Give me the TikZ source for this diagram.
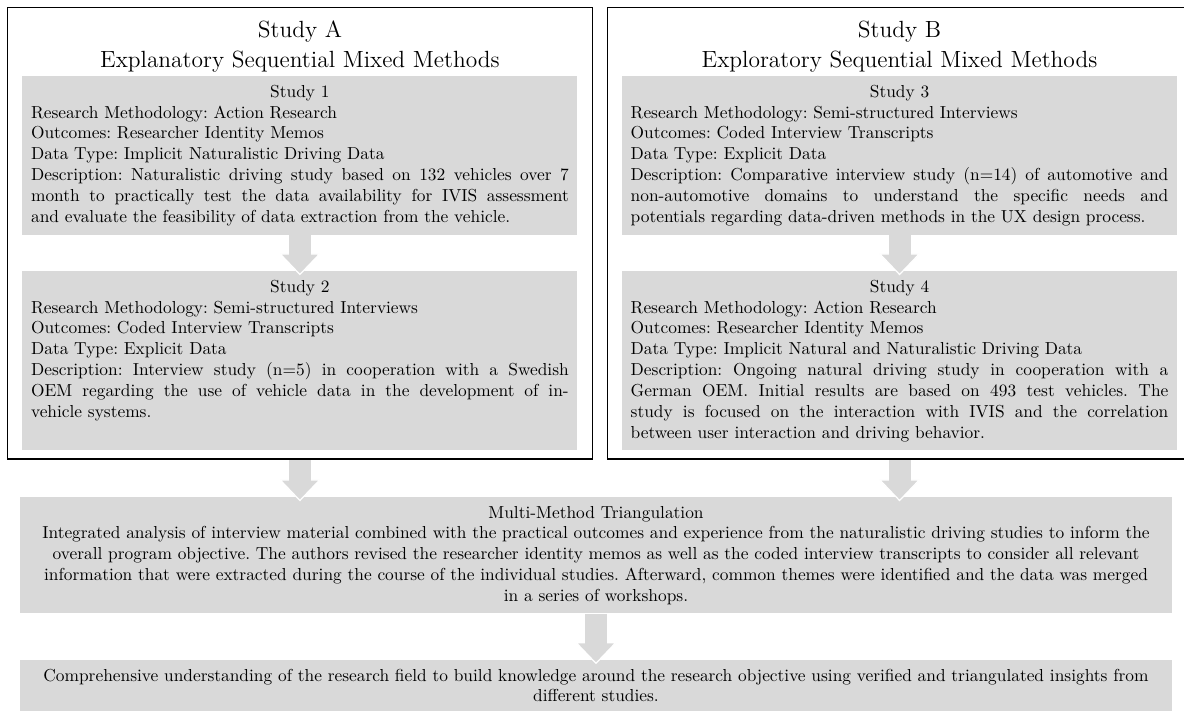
\documentclass[tikz,border=0pt]{standalone}
\usetikzlibrary{arrows,arrows.meta,positioning,fit}
\definecolor{boxgray}{gray}{0.85}
\frenchspacing

\begin{document}
\begin{tikzpicture}[>=latex']
        \tikzset{study/.style= {fill=boxgray, text width=309.7pt, inner xsep=5pt, inner ysep=5pt, align=justify},
        lowstudy/.style={study, text depth=86pt},
        heading/.style={align=center, font=\fontsize{13.5}{17.3}\selectfont, inner sep=3pt},
        frame/.style={draw, line width=0.7pt, inner xsep=8.5pt, inner ysep=4.8pt},
        wide/.style={fill=boxgray, text width=653.6pt, inner xsep=5pt, inner ysep=5pt, align=center},
        flow/.style={ % block arrow, white rim on the head
        boxgray,
        line width=12.7pt,
        shorten >=-2.5pt,
        -{Triangle[length=12.7pt 0,width=24.2pt 0,fill=boxgray,color=white,line width=0.7pt 0]},
        postaction={draw=boxgray, -, shorten >=9.3pt}
    },
        }
        \useasboundingbox (0,0) rectangle (682pt,-409pt);
        \node [study, anchor=north west] (study1) at (12.7pt,-43.8pt) {\hspace*{\fill}Study 1\hspace*{\fill}\\
        Research Methodology: Action Research\\
        Outcomes: Researcher Identity Memos\\
        Data Type: Implicit Naturalistic Driving Data\\
        Description: Naturalistic driving study based on 132 vehicles over 7\linebreak
        month to practically test the data availability for IVIS assessment\linebreak
        and evaluate the feasibility of data extraction from the vehicle.};
        \node [study, right =25.3pt of study1.north east, anchor=north west] (study3) {\hspace*{\fill}Study 3\hspace*{\fill}\\
        Research Methodology: Semi-structured Interviews\\
        Outcomes: Coded Interview Transcripts\\
        Data Type: Explicit Data\\
        Description: Comparative interview study (n=14) of automotive and\linebreak
        non-automotive domains to understand the specific needs and\linebreak
        potentials regarding data-driven methods in the UX design process.};
        \node [lowstudy, below =20.8pt of study1] (study2) {\hspace*{\fill}Study 2\hspace*{\fill}\\
        Research Methodology: Semi-structured Interviews\\
        Outcomes: Coded Interview Transcripts\\
        Data Type: Explicit Data\\
        Description: Interview study (n=5) in cooperation with a Swedish\linebreak
        OEM regarding the use of vehicle data in the development of in-\linebreak{}vehicle systems.};
        \node [lowstudy, below =20.8pt of study3] (study4) {\hspace*{\fill}Study 4\hspace*{\fill}\\
        Research Methodology: Action Research\\
        Outcomes: Researcher Identity Memos\\
        Data Type: Implicit Natural and Naturalistic Driving Data\\
        Description: Ongoing natural driving study in cooperation with a\linebreak
        German OEM. Initial results are based on 493 test vehicles. The\linebreak
        study is focused on the interaction with IVIS and the correlation\linebreak
        between user interaction and driving behavior.};
        \node [heading, above =-1.3pt of study1] (headA) {Study A\\Explanatory Sequential Mixed Methods};
        \node [heading, above =-1.3pt of study3] (headB) {Study B\\Exploratory Sequential Mixed Methods};
        \node [frame, fit=(headA)(study1)(study2)] (studyA) {};
        \coordinate [left =4pt of study3.north west] (padB);
        \node [frame, inner xsep=4pt, fit=(headB)(padB)(study3)(study4)] (studyB) {};
        \node [wide, anchor=north] (triang) at (343.3pt,-286.3pt) {Multi-Method Triangulation\\
        Integrated analysis of interview material combined with the practical outcomes and experience from the naturalistic driving studies to inform the\\
        overall program objective. The authors revised the researcher identity memos as well as the coded interview transcripts to consider all relevant\\
        information that were extracted during the course of the individual studies. Afterward, common themes were identified and the data was merged\\
        in a series of workshops.};
        \node [wide, below =26.5pt of triang] (insight) {Comprehensive understanding of the research field to build knowledge around the research objective using verified and triangulated insights from\\
        different studies.};
%% paths
        \draw[flow] (study1) -- (study2);
        \draw[flow] (study3) -- (study4);
        \draw[flow, shorten <=0.35pt] (studyA.south -| study2) -- (study2 |- triang.north);
        \draw[flow, shorten <=0.35pt] (studyB.south -| study4) -- (study4 |- triang.north);
        \draw[flow] (triang) -- (insight);
    \end{tikzpicture}
\end{document}
